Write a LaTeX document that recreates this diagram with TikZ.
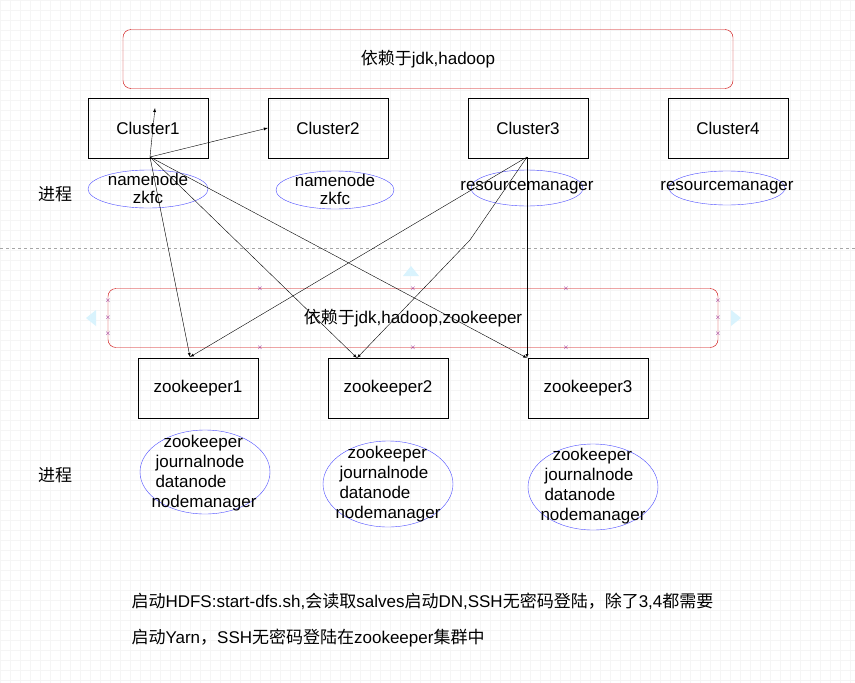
\documentclass[tikz,border=0pt]{standalone}
\usepackage{fontspec}
\usetikzlibrary{shapes.geometric}
\setmainfont{Liberation Sans}
\newfontfamily\cjk{Noto Sans CJK SC}
\begin{document}
\begin{tikzpicture}[x=1pt,y=-1pt,
  fnt/.style={font=\fontsize{17}{19}\selectfont},
  box/.style={draw=black,minimum width=120pt,minimum height=60pt,fnt},
  grp/.style={draw=red!80!black,rounded corners=8pt,fnt},
  ell/.style={draw=blue!70,ellipse,inner sep=0pt,font=\fontsize{17}{18}\selectfont,align=center},
  ar/.style={-latex,black},
  lst/.style={font=\fontsize{17}{20}\selectfont,align=left},
  txt/.style={fnt,anchor=west}]
\useasboundingbox (0,0) rectangle (855,683);
\fill[white] (0,0) rectangle (855,683);
\foreach \i in {0,10,...,850} \draw[black!4] (\i,0) -- (\i,683);
\foreach \j in {0,10,...,680} \draw[black!4] (0,\j) -- (855,\j);
\draw[black!35,dashed] (0,248) -- (855,248);
\node[grp,minimum width=610pt,minimum height=59pt] (g1) at (428,59) {{\cjk 依赖于}jdk,hadoop};
\node[box] (c1) at (148,128) {Cluster1};
\node[box] (c2) at (328,128) {Cluster2};
\node[box] (c3) at (528,128) {Cluster3};
\node[box] (c4) at (728,128) {Cluster4};
\node[ell,minimum width=120pt,minimum height=38pt] (e1) at (148,189) {};
\node[ell,draw=none] (t1) at (148,188) {namenode\\zkfc};
\node[ell,minimum width=118pt,minimum height=38pt] (e2) at (335,190) {};
\node[ell,draw=none] (t2) at (335,189) {namenode\\zkfc};
\node[ell,minimum width=112pt,minimum height=36pt] (e3) at (527,188) {};
\node[fnt] (t3) at (527,188) {resourcemanager};
\node[ell,minimum width=116pt,minimum height=34pt] (e4) at (727,188) {};
\node[fnt] (t4) at (727,188) {resourcemanager};
\node[fnt,font=\fontsize{17}{19}\selectfont\cjk] (p1) at (55,194) {进程};
\node[fnt,font=\fontsize{17}{19}\selectfont\cjk] (p2) at (55,475) {进程};
\node[grp,minimum width=610pt,minimum height=59pt] (g2) at (413,318) {{\cjk 依赖于}jdk,hadoop,zookeeper};
\fill[cyan!15] (403,276) -- (419,276) -- (411,266) -- cycle;
\fill[cyan!15] (96,310) -- (96,326) -- (86,318) -- cycle;
\fill[cyan!15] (731,310) -- (731,326) -- (741,318) -- cycle;
\foreach \p in {(108,301),(108,318),(108,334),(718,301),(718,318),(718,334),(260,289),(413,289),(566,289),(260,348),(413,348),(566,348)}
  \node[text=violet,font=\scriptsize,inner sep=0pt] at \p {$\times$};
\node[box] (z1) at (198,388) {zookeeper1};
\node[box] (z2) at (388,388) {zookeeper2};
\node[box] (z3) at (588,388) {zookeeper3};
\node[ell,minimum width=130pt,minimum height=84pt] (f1) at (205,472) {};
\node[lst] at (206,473) {\hspace{8pt}zookeeper\\journalnode\\ datanode\\ \hspace{-4pt}nodemanager};
\node[ell,minimum width=130pt,minimum height=86pt] (f2) at (388,484) {};
\node[lst] at (390,484) {\hspace{8pt}zookeeper\\journalnode\\ datanode\\ \hspace{-4pt}nodemanager};
\node[ell,minimum width=130pt,minimum height=86pt] (f3) at (593,487) {};
\node[lst] at (595,486) {\hspace{8pt}zookeeper\\journalnode\\ datanode\\ \hspace{-4pt}nodemanager};
\coordinate (s1) at (150,157);
\coordinate (s3) at (527,157);
\coordinate (up) at (155,108);
\coordinate (bend) at (470,240);
\draw[ar] (s1) -- (up);
\draw[ar] (s1) -- (c2.west);
\draw[ar] (s1) -- (190,357);
\draw[ar] (s1) -- (357,358);
\draw[ar] (s1) -- (527,358);
\draw[ar] (s3) -- (190,357);
\draw[ar] (s3) -- (bend) -- (357,358);
\draw[ar] (s3) -- (527,358);
\node[txt] (n1) at (128,601) {{\cjk 启动}HDFS:start-dfs.sh,{\cjk 会读取}salves{\cjk 启动}DN,SSH{\cjk 无密码登陆，除了}3,4{\cjk 都需要}};
\node[txt] (n2) at (128,638) {{\cjk 启动}Yarn{\cjk ，}SSH{\cjk 无密码登陆在}zookeeper{\cjk 集群中}};
\end{tikzpicture}
\end{document}
